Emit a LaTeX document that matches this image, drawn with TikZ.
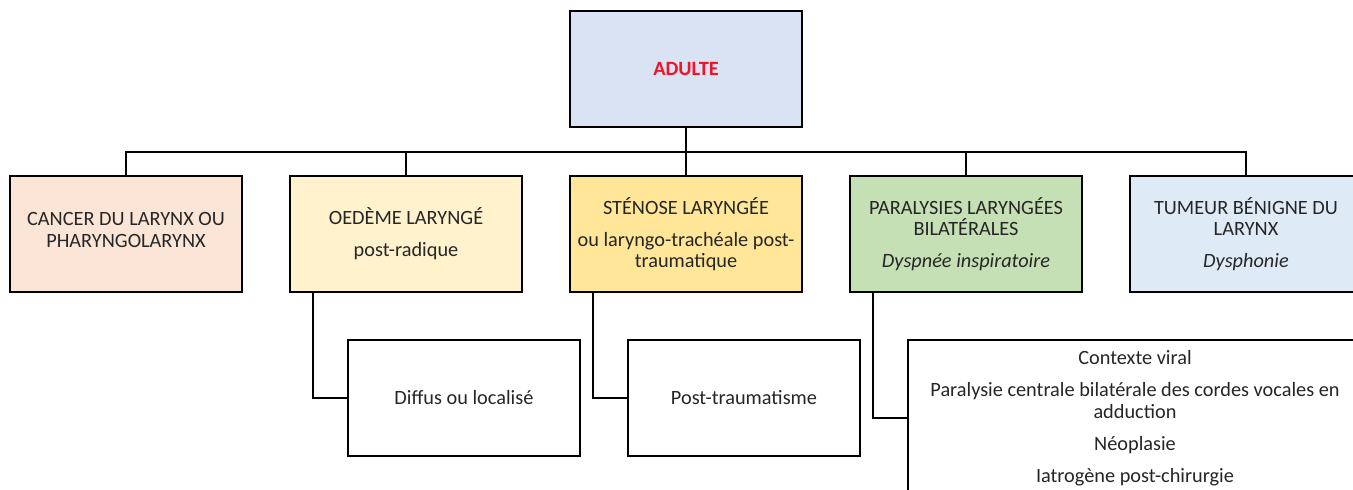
\documentclass[tikz,border=0pt]{standalone}
\usepackage{fontspec}
\setmainfont{Carlito}
\definecolor{topblue}{HTML}{DAE3F3}
\definecolor{peach}{HTML}{FBE5D6}
\definecolor{cream}{HTML}{FFF2CC}
\definecolor{gold}{HTML}{FFE699}
\definecolor{sage}{HTML}{C5E0B4}
\definecolor{paleblue}{HTML}{DEEBF7}
\definecolor{txt}{HTML}{262626}
\definecolor{alert}{HTML}{F0142A}
\begin{document}
\begin{tikzpicture}[x=1pt,y=-1pt,
  box/.style={draw=black, line width=2pt, minimum width=232pt, minimum height=116pt,
    inner sep=2pt, align=center, text=txt, font=\fontsize{20.3}{21.5}\selectfont},
  conn/.style={draw=black, line width=2pt}]
\useasboundingbox (0,0) rectangle (1353,490);
\clip (0,0) rectangle (1353,490);
\fill[white] (0,0) rectangle (1353,490);

% root
\node[box, fill=topblue, font=\fontsize{20.3}{21.5}\selectfont\bfseries, text=alert] (adulte) at (686,69) {ADULTE};

% first level
\node[box, fill=peach, inner ysep=0pt, text depth=8pt] (cancer) at (126,234) {CANCER DU LARYNX OU\\PHARYNGOLARYNX};
\node[box, fill=cream] (oedeme) at (406,234) {OEDÈME LARYNGÉ\\[10.5pt]post-radique};
\node[box, fill=gold] (stenose) at (686,234) {STÉNOSE LARYNGÉE\\[10.5pt]ou laryngo-trachéale post-\\traumatique};
\node[box, fill=sage] (paralysie) at (966,234) {PARALYSIES LARYNGÉES\\BILATÉRALES\\[10.5pt]\textit{Dyspnée inspiratoire}};
\node[box, fill=paleblue] (tumeur) at (1246,234) {TUMEUR BÉNIGNE DU\\LARYNX\\[10.5pt]\textit{Dysphonie}};

% second level
\node[box, fill=white] (diffus) at (464,398) {Diffus ou localisé};
\node[box, fill=white] (trauma) at (744,398) {Post-traumatisme};
\node[box, fill=white, minimum width=454pt, minimum height=156pt] (causes) at (1135,418)
  {Contexte viral\\[10.5pt]Paralysie centrale bilatérale des cordes vocales en\\adduction\\[10.5pt]Néoplasie\\[10.5pt]Iatrogène post-chirurgie};

% connectors from the root to the first level
\foreach \n in {cancer,oedeme,stenose,paralysie,tumeur}
  \draw[conn] (adulte.south) -- ++(0,24) -| (\n.north);

% connectors to the second level
\draw[conn] ([xshift=24pt]oedeme.south west) |- (diffus.west);
\draw[conn] ([xshift=24pt]stenose.south west) |- (trauma.west);
\draw[conn] ([xshift=24pt]paralysie.south west) |- (causes.west);
\end{tikzpicture}
\end{document}
